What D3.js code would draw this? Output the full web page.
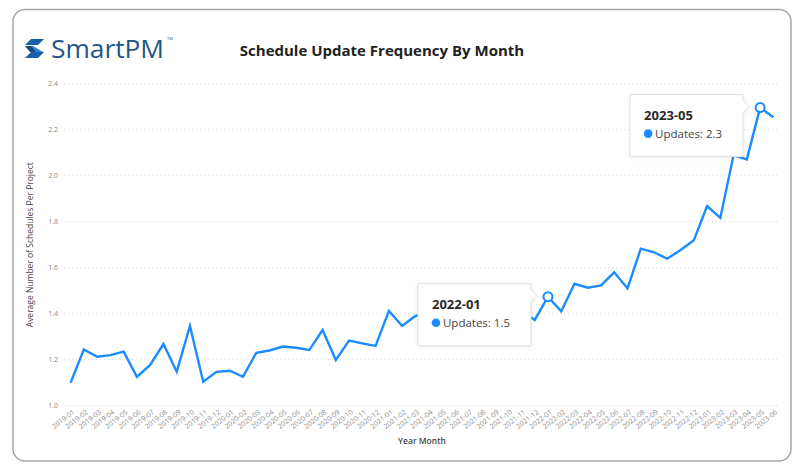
<!DOCTYPE html>
<html>
<head>
<meta charset="utf-8">
<script src="https://cdn.jsdelivr.net/npm/d3@7/dist/d3.min.js"></script>
<style>
  html, body { margin: 0; padding: 0; background: #ffffff; }
  svg { display: block; }
</style>
</head>
<body>
<svg id="chart" width="800" height="474"></svg>
<script>
// ---------- data ----------
const months = [
  "2019-01","2019-02","2019-03","2019-04","2019-05","2019-06","2019-07","2019-08","2019-09","2019-10","2019-11","2019-12",
  "2020-01","2020-02","2020-03","2020-04","2020-05","2020-06","2020-07","2020-08","2020-09","2020-10","2020-11","2020-12",
  "2021-01","2021-02","2021-03","2021-04","2021-05","2021-06","2021-07","2021-08","2021-09","2021-10","2021-11","2021-12",
  "2022-01","2022-02","2022-03","2022-04","2022-05","2022-06","2022-07","2022-08","2022-09","2022-10","2022-11","2022-12",
  "2023-01","2023-02","2023-03","2023-04","2023-05","2023-06"
];
const updates = [
  1.10, 1.245, 1.213, 1.22, 1.235, 1.126, 1.177, 1.268, 1.148, 1.347, 1.104, 1.147,
  1.152, 1.126, 1.23, 1.24, 1.257, 1.252, 1.242, 1.329, 1.199, 1.283, 1.271, 1.26,
  1.412, 1.347, 1.39, 1.40, 1.43, 1.39, 1.45, 1.42, 1.46, 1.40, 1.413, 1.373,
  1.474, 1.41, 1.53, 1.513, 1.523, 1.58, 1.51, 1.683, 1.667, 1.639, 1.677, 1.719,
  1.868, 1.817, 2.09, 2.071, 2.296, 2.254
];
const yTicks = [1.0, 1.2, 1.4, 1.6, 1.8, 2.0, 2.2, 2.4];
const highlighted = ["2022-01", "2023-05"];
const seriesName = "Updates";
const chartTitle = "Schedule Update Frequency By Month";
const xTitle = "Year Month";
const yTitle = "Average Number of Schedules Per Project";

// ---------- layout ----------
const svg = d3.select("#chart");
const plot = { left: 64, right: 780, top: 83.7, bottom: 405.7 };
const lineColor = "#1a8cff";

// card border
svg.append("rect")
  .attr("x", 13).attr("y", 9.5).attr("width", 778).attr("height", 451.5)
  .attr("rx", 12).attr("ry", 12)
  .attr("fill", "#fff").attr("stroke", "#a6a6a6").attr("stroke-width", 1.5);

// logo icon
const logo = svg.append("g").attr("transform", "translate(25,39)");
logo.append("polygon").attr("points", "6,0 19,0 13,6 0,6").attr("fill", "#1b5fa6");
logo.append("polygon").attr("points", "1,7 8,7 18,13 11,13").attr("fill", "#2f86d0");
logo.append("polygon").attr("points", "6,13 19,13 13,19 0,19").attr("fill", "#1b5fa6");
logo.append("polygon").attr("points", "0,7 6,7 11,13 5,13").attr("fill", "#15497f");
svg.append("text")
  .attr("x", 51).attr("y", 58)
  .attr("font-family", "'Open Sans', sans-serif")
  .attr("font-size", 26).attr("font-weight", 400)
  .attr("fill", "#1f5688")
  .attr("textLength", 113).attr("lengthAdjust", "spacingAndGlyphs")
  .text("SmartPM");
svg.append("text")
  .attr("x", 167).attr("y", 40)
  .attr("font-family", "'Open Sans', sans-serif")
  .attr("font-size", 4).attr("fill", "#1f5688")
  .text("TM");

// title
svg.append("text")
  .attr("x", 382).attr("y", 56)
  .attr("text-anchor", "middle")
  .attr("font-family", "'Open Sans', sans-serif")
  .attr("font-size", 15).attr("font-weight", 700)
  .attr("fill", "#222")
  .text(chartTitle);

// ---------- scales ----------
const x = d3.scaleBand().domain(months).range([plot.left, plot.right]).padding(0);
const xc = d => x(d) + x.bandwidth() / 2;
const y = d3.scaleLinear().domain([1.0, 2.4]).range([plot.bottom, plot.top]);

// grid
svg.append("g").selectAll("line").data(yTicks).join("line")
  .attr("x1", plot.left).attr("x2", plot.right)
  .attr("y1", d => y(d)).attr("y2", d => y(d))
  .attr("stroke", "#d9d9d9").attr("stroke-width", 1)
  .attr("stroke-dasharray", "1,3");

// y axis
const yAxis = svg.append("g")
  .attr("transform", `translate(${plot.left - 6},0)`)
  .call(d3.axisLeft(y).tickValues(yTicks).tickFormat(d3.format(".1f")).tickSize(0).tickPadding(0));
yAxis.select(".domain").remove();
yAxis.selectAll("text")
  .attr("font-family", "'Open Sans', sans-serif")
  .attr("font-size", 7).attr("fill", "#8a8a8a");

// x axis
const xAxis = svg.append("g")
  .attr("transform", `translate(0,${plot.bottom + 4})`)
  .call(d3.axisBottom(x).tickSize(0).tickPadding(0));
xAxis.select(".domain").remove();
xAxis.selectAll("text")
  .attr("font-family", "'Open Sans', sans-serif")
  .attr("font-size", 7).attr("fill", "#8c8c8c")
  .attr("text-anchor", "end")
  .attr("dy", "0.6em")
  .attr("transform", "translate(2,0) rotate(-38)");

// axis titles
svg.append("text")
  .attr("x", (plot.left + plot.right) / 2).attr("y", 444)
  .attr("text-anchor", "middle")
  .attr("font-family", "'Open Sans', sans-serif")
  .attr("font-size", 8.5).attr("font-weight", 600)
  .attr("fill", "#444")
  .text(xTitle);
svg.append("text")
  .attr("transform", `translate(33,${(plot.top + plot.bottom) / 2}) rotate(-90)`)
  .attr("text-anchor", "middle")
  .attr("font-family", "'Open Sans', sans-serif")
  .attr("font-size", 8.5)
  .attr("fill", "#444")
  .text(yTitle);

// line
const data = months.map((m, i) => ({ m, v: updates[i] }));
svg.append("path")
  .datum(data)
  .attr("fill", "none")
  .attr("stroke", lineColor)
  .attr("stroke-width", 2.4)
  .attr("stroke-linejoin", "miter")
  .attr("d", d3.line().x(d => xc(d.m)).y(d => y(d.v)));

// highlighted points
const hi = data.filter(d => highlighted.includes(d.m));
svg.append("g").selectAll("circle").data(hi).join("circle")
  .attr("cx", d => xc(d.m)).attr("cy", d => y(d.v))
  .attr("r", 4.5)
  .attr("fill", "#fff").attr("stroke", lineColor).attr("stroke-width", 2);

// tooltips
const tipW = 113, tipH = 62;
const tips = svg.append("g").selectAll("g").data(hi).join("g")
  .attr("transform", d => `translate(${xc(d.m) - 17 - tipW},${y(d.v) - 13})`);
tips.append("path")
  .attr("d", `M0,0 H${tipW - 0} V6 L${tipW + 6},12 L${tipW},18 V${tipH} H0 Z`)
  .attr("fill", "#fff")
  .attr("stroke", "#e0e0e0").attr("stroke-width", 1)
  .style("filter", "drop-shadow(0px 1px 2px rgba(0,0,0,0.08))");
tips.append("text")
  .attr("x", 14).attr("y", 25)
  .attr("font-family", "'Open Sans', sans-serif")
  .attr("font-size", 13).attr("font-weight", 700)
  .attr("fill", "#2a2a2a")
  .text(d => d.m);
tips.append("circle")
  .attr("cx", 18).attr("cy", 39).attr("r", 4.3)
  .attr("fill", lineColor);
tips.append("text")
  .attr("x", 25).attr("y", 43)
  .attr("font-family", "'Open Sans', sans-serif")
  .attr("font-size", 11.5)
  .attr("fill", "#444")
  .text(d => `${seriesName}: ${d3.format(".1f")(d.v)}`);
</script>
</body>
</html>
